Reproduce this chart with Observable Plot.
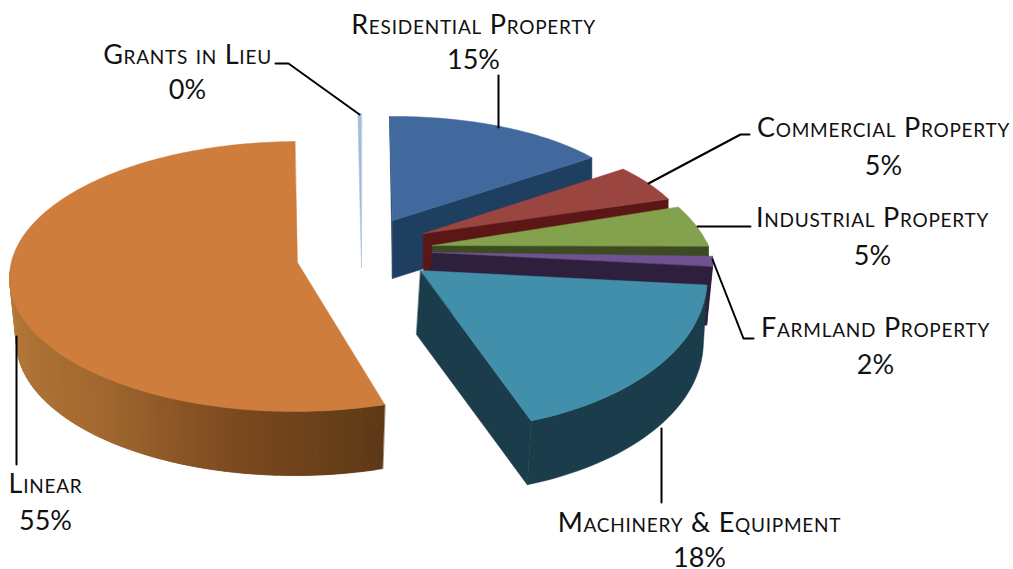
<!DOCTYPE html>
<html>
<head>
<meta charset="utf-8">
<style>
html,body{margin:0;padding:0;background:#fff;overflow:hidden}
.names text{letter-spacing:0.75px}
</style>
<script src="https://cdn.jsdelivr.net/npm/d3@7"></script>
<script src="https://cdn.jsdelivr.net/npm/@observablehq/plot@0.6"></script>
</head>
<body>
<div id="chart"></div>
<script>
// Data
const categories = ["Residential Property","Commercial Property","Industrial Property","Farmland Property","Machinery & Equipment","Linear","Grants in Lieu"];
const shares = [15,5,5,2,18,55,0.2];
// Colours
const topColors  = ["#41699d","#9b4541","#84a24e","#6f5390","#418fab","#ce7d3c","#a3bbdd"];
const wallColors = ["#1f3f61","#5a1715","#3c4b22","#2e1f3d","#1b3d4b","#7d4a20","#5d7595"];
const linearRamp = ["#b67b3b","#a2682f","#7d4a20","#5e3917"];
// Projection of each exploded slice: hub, ellipse centre, ellipse axes, extrusion
const frames = [
  {hub:[392,220],c:[392,220],a:249,b:-3,e:-2,d:104,drop:[0,58],side:true,startSide:true},
  {hub:[423,233],c:[423,233],a:266,b:-26,e:-1,d:108,drop:[0,60],side:true},
  {hub:[432,245],c:[432,245],a:276,b:-53,e:1,d:127,drop:[0,60],side:true},
  {hub:[432,252],c:[432,252],a:280,b:-18,e:4,d:80,drop:[-6,59],side:true},
  {hub:[420,270],c:[420,270],a:286,b:-22,e:-5,d:160,drop:[-4,64],side:true},
  {hub:[297,262],c:[296,276],a:287,b:2,e:0,d:135,drop:[0,64],side:false,lower:0.976},
  {hub:[361,267],c:[361,267],a:288,b:0,e:0,d:154,drop:[0,0],side:false,flat:true}
];
// Annotation layout
const labelLayout = [
  {x:473,y:25,py:60,path:[[498,75],[498,127]]},
  {x:883,y:128,py:166,path:[[749,134],[740,134],[648,183]]},
  {x:872,y:218,py:256,path:[[750,226],[697,226]]},
  {x:875,y:328,py:365,path:[[753,338],[743,338],[712,259]]},
  {x:699,y:523,py:558,path:[[661,428],[661,502]]},
  {x:45,y:484,py:521,path:[[16,336],[16,464]]},
  {x:187,y:55,py:90,path:[[275,63],[288,63],[359,114]]}
];

const arcs = d3.pie().sort(null)(shares);
const rad = Math.PI / 180;
function rim(f, t, low = false) {
  const s = Math.sin(t), c = Math.cos(t), k = low && f.lower ? f.lower : 1;
  const x = f.c[0] + k * f.a * s + f.b * c, y = f.c[1] + f.e * s - f.d * c;
  return low ? [x + f.drop[0], y + f.drop[1]] : [x, y];
}
const linearShade = d3.scaleLinear().domain([270,223,193,162]).range(linearRamp).clamp(true);

const polys = [];
let pid = 0;
function poly(points, color) {
  const id = pid++;
  points.forEach(([x, y]) => polys.push({id, x, y, color}));
}
const order = [6,0,1,2,3,4,5];
for (const i of order) {
  const f = frames[i], A = arcs[i], t0 = A.startAngle, t1 = A.endAngle;
  const hub = f.hub, hubLow = [hub[0] + f.drop[0], hub[1] + f.drop[1]];
  if (f.startSide) poly([rim(f, t0), hub, hubLow], wallColors[i]);
  if (f.side) poly([hub, rim(f, t1), rim(f, t1, true), hubLow], wallColors[i]);
  if (!f.flat) {
    const r0 = Math.max(t0, 88 * rad), r1 = Math.min(t1, 272 * rad);
    if (r1 > r0) {
      const step = 1.5 * rad, n = Math.ceil((r1 - r0) / step), w = (r1 - r0) / n;
      if (i === 5) {
        // shaded wall: each strip runs under the next one, so no seams show
        for (let j = 0; j < n; j++) {
          const u0 = r0 + w * j, u1 = Math.min(r1, u0 + 2 * w);
          const us = [u0, (u0 + u1) / 2, u1];
          poly([...us.map(u => rim(f, u)), ...us.slice().reverse().map(u => rim(f, u, true))], linearShade((u0 + w / 2) / rad));
        }
      } else {
        const us = d3.range(n + 1).map(j => r0 + w * j);
        poly([...us.map(u => rim(f, u)), ...us.slice().reverse().map(u => rim(f, u, true))], wallColors[i]);
      }
    }
  }
  const top = [hub];
  const n = Math.max(2, Math.ceil((t1 - t0) / rad));
  for (let j = 0; j <= n; j++) top.push(rim(f, t0 + (t1 - t0) * j / n));
  poly(top, topColors[i]);
}

const leaders = labelLayout.flatMap((l, i) => l.path.map(([x, y]) => ({i, x, y})));
const names = categories.map((c, i) => ({text: c, x: labelLayout[i].x, y: labelLayout[i].y}));
const pcts = shares.map((v, i) => ({text: Math.round(v) + "%", x: labelLayout[i].x, y: labelLayout[i].py}));

const chart = Plot.plot({
  width: 1013, height: 569,
  margin: 0,
  x: {domain: [0, 1013], range: [0, 1013], axis: null},
  y: {domain: [0, 569], range: [0, 569], axis: null},
  color: {type: "identity"},
  style: {background: "#fff"},
  marks: [
    Plot.line(polys, {x: "x", y: "y", z: "id", fill: "color", stroke: "color", strokeWidth: 0.5, curve: "linear-closed"}),
    Plot.line(leaders, {x: "x", y: "y", z: "i", stroke: "#000", strokeWidth: 2, curve: "linear"}),
    Plot.text(names, {x: "x", y: "y", text: "text", fontFamily: "Lato", fontSize: 27, fontVariant: "small-caps", fill: "#111", className: "names"}),
    Plot.text(pcts, {x: "x", y: "y", text: "text", fontFamily: "Lato", fontSize: 27, fill: "#111"})
  ]
});
document.getElementById("chart").appendChild(chart);
</script>
</body>
</html>
